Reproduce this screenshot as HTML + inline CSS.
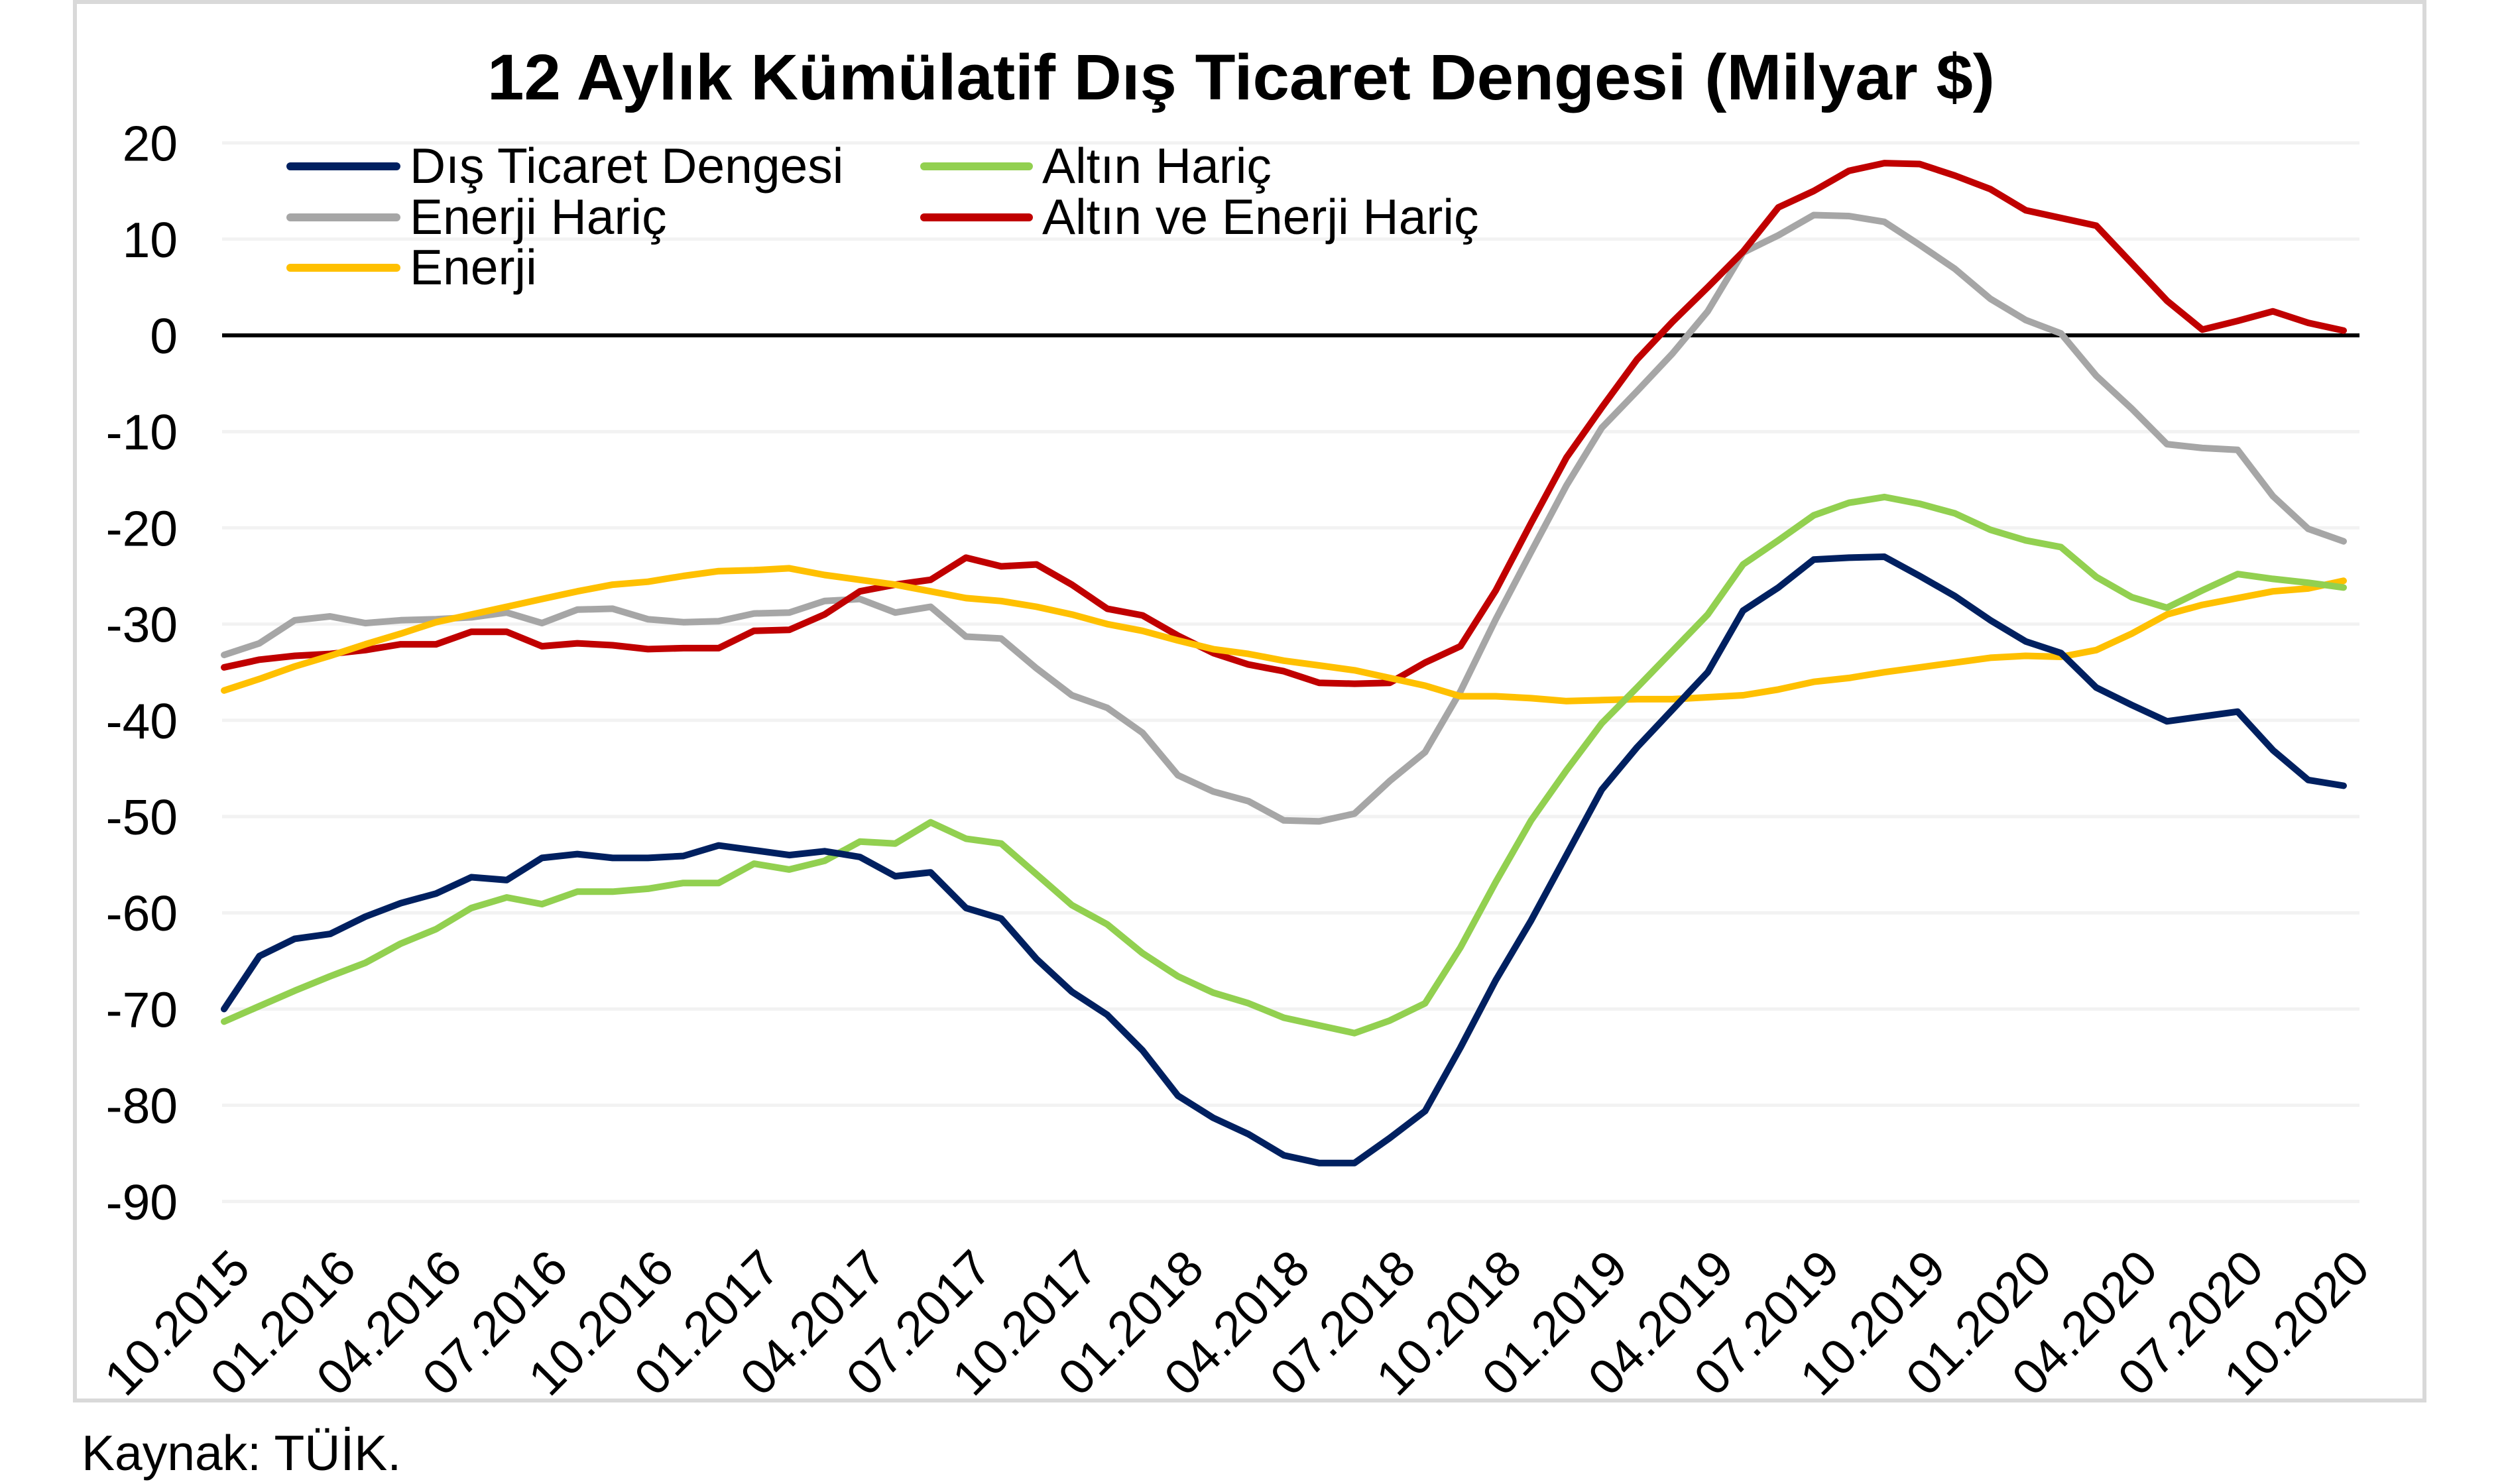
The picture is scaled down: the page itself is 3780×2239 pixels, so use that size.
<!DOCTYPE html>
<html><head><meta charset="utf-8"><style>
html,body{margin:0;padding:0;background:#fff;}
svg{display:block;font-family:"Liberation Sans",Arial,sans-serif;}
</style></head><body>
<svg id="chart" width="3780" height="2239" viewBox="0 0 3780 2239" xmlns="http://www.w3.org/2000/svg">
<rect x="113" y="3" width="3544" height="2110" fill="#fff" stroke="#d9d9d9" stroke-width="6"/>
<text x="1872" y="150" text-anchor="middle" font-size="97" font-weight="bold" textLength="2274" lengthAdjust="spacingAndGlyphs">12 Aylık Kümülatif Dış Ticaret Dengesi (Milyar $)</text>
<g id="grid"></g>
<g id="yaxis"></g>
<g id="xaxis"></g>
<g id="series"></g>
<g>
 <g><line x1="438" y1="251" x2="598" y2="251" stroke="#002060" stroke-width="12" stroke-linecap="round"/><text x="618" y="276" font-size="75">Dış Ticaret Dengesi</text></g>
 <g><line x1="438" y1="328" x2="598" y2="328" stroke="#a6a6a6" stroke-width="12" stroke-linecap="round"/><text x="618" y="353" font-size="75">Enerji Hariç</text></g>
 <g><line x1="438" y1="404" x2="598" y2="404" stroke="#ffc000" stroke-width="12" stroke-linecap="round"/><text x="618" y="429" font-size="75">Enerji</text></g>
 <g><line x1="1394" y1="251" x2="1552" y2="251" stroke="#92d050" stroke-width="12" stroke-linecap="round"/><text x="1572" y="276" font-size="75">Altın Hariç</text></g>
 <g><line x1="1394" y1="328" x2="1552" y2="328" stroke="#c00000" stroke-width="12" stroke-linecap="round"/><text x="1572" y="353" font-size="75">Altın ve Enerji Hariç</text></g>
</g>
<text x="123" y="2218" font-size="75">Kaynak: TÜİK.</text>
</svg>
<script>
const yTicks = [20,10,0,-10,-20,-30,-40,-50,-60,-70,-80,-90];
const xTickLabels = ["10.2015","01.2016","04.2016","07.2016","10.2016","01.2017","04.2017","07.2017","10.2017","01.2018","04.2018","07.2018","10.2018","01.2019","04.2019","07.2019","10.2019","01.2020","04.2020","07.2020","10.2020"];
const disTicaret = [-70,-64.5,-62.7,-62.2,-60.4,-59,-58,-56.3,-56.6,-54.3,-53.9,-54.3,-54.3,-54.1,-53,-53.5,-54,-53.6,-54.2,-56.2,-55.8,-59.5,-60.6,-64.8,-68.2,-70.6,-74.3,-79,-81.3,-83,-85.2,-86,-86,-83.4,-80.6,-74,-67,-60.8,-54,-47.2,-42.8,-38.9,-35,-28.6,-26.2,-23.3,-23.1,-23,-25,-27.1,-29.6,-31.8,-33,-36.6,-38.4,-40.1,-39.6,-39.1,-43.1,-46.2,-46.8];
const altinHaric = [-71.3,-69.7,-68.1,-66.6,-65.2,-63.2,-61.7,-59.5,-58.4,-59.1,-57.8,-57.8,-57.5,-56.9,-56.9,-54.9,-55.5,-54.6,-52.6,-52.8,-50.6,-52.3,-52.8,-56,-59.2,-61.2,-64.2,-66.6,-68.3,-69.4,-70.9,-71.7,-72.5,-71.2,-69.4,-63.6,-56.8,-50.4,-45.2,-40.3,-36.6,-32.8,-29,-23.8,-21.3,-18.7,-17.4,-16.8,-17.5,-18.5,-20.2,-21.3,-22,-25.1,-27.2,-28.3,-26.5,-24.8,-25.3,-25.7,-26.2];
const enerjiHaric = [-33.2,-32,-29.6,-29.2,-29.9,-29.6,-29.5,-29.3,-28.8,-29.9,-28.5,-28.4,-29.5,-29.8,-29.7,-28.9,-28.8,-27.6,-27.4,-28.8,-28.2,-31.3,-31.5,-34.6,-37.4,-38.7,-41.3,-45.7,-47.4,-48.4,-50.4,-50.5,-49.7,-46.3,-43.3,-37,-29.5,-22.5,-15.6,-9.6,-5.8,-1.9,2.5,8.6,10.4,12.5,12.4,11.8,9.4,6.9,3.8,1.6,0.2,-4.2,-7.6,-11.3,-11.7,-11.9,-16.7,-20.1,-21.4];
const altinEnerjiHaric = [-34.5,-33.7,-33.3,-33.1,-32.7,-32.1,-32.1,-30.8,-30.8,-32.3,-32,-32.2,-32.6,-32.5,-32.5,-30.7,-30.6,-29,-26.6,-25.9,-25.4,-23.1,-24,-23.8,-25.9,-28.4,-29.1,-31.2,-33,-34.2,-34.9,-36.1,-36.2,-36.1,-34,-32.3,-26.5,-19.5,-12.7,-7.5,-2.5,1.4,5,8.7,13.3,15,17.1,17.9,17.8,16.6,15.2,13,12.2,11.4,7.5,3.6,0.6,1.5,2.5,1.3,0.5,-0.8].slice(0,61);
const enerji = [-36.9,-35.7,-34.4,-33.3,-32.1,-31,-29.8,-29,-28.2,-27.4,-26.6,-25.9,-25.6,-25,-24.5,-24.4,-24.2,-24.9,-25.4,-25.9,-26.6,-27.3,-27.6,-28.2,-29,-30,-30.7,-31.7,-32.6,-33.1,-33.8,-34.3,-34.8,-35.6,-36.4,-37.5,-37.5,-37.7,-38,-37.9,-37.8,-37.8,-37.6,-37.4,-36.8,-36,-35.6,-35,-34.5,-34,-33.5,-33.3,-33.4,-32.7,-31,-29,-28,-27.3,-26.6,-26.3,-25.5];

const NS = "http://www.w3.org/2000/svg";
const X0 = 338, X1 = 3535, Y0 = 506, PER10 = 145.2;
const N = 61;
function xPos(i){ return X0 + i*(X1-X0)/(N-1); }
function yPos(v){ return Y0 - v*PER10/10; }
function mk(tag, attrs, parent){ const e=document.createElementNS(NS,tag); for(const k in attrs) e.setAttribute(k,attrs[k]); parent.appendChild(e); return e; }

const grid=document.getElementById('grid'), yaxis=document.getElementById('yaxis'), xaxis=document.getElementById('xaxis'), series=document.getElementById('series');
yTicks.forEach(t=>{
  if(t!==0){
    const g=mk('line',{x1:335,x2:3559,y1:yPos(t),y2:yPos(t),stroke:'#f2f2f2','stroke-width':5},grid);
    
    
  }
  const tx=mk('text',{x:268,y:yPos(t)+27,'text-anchor':'end','font-size':75},yaxis);
  tx.textContent=String(t);
  
  
});
xTickLabels.forEach((lab,k)=>{
  const x=xPos(k*3);
  const tx=mk('text',{'text-anchor':'end','font-size':75,transform:`translate(${x+43},1918) rotate(-45)`},xaxis);
  tx.textContent=lab;
  
  
});
function drawLine(vals,color,name){
  const d=vals.map((v,i)=>(i?'L':'M')+xPos(i).toFixed(1)+' '+yPos(v).toFixed(1)).join(' ');
  const p=mk('path',{d:d,fill:'none',stroke:color,'stroke-width':10,'stroke-linejoin':'round','stroke-linecap':'round'},series);
  
  
}
drawLine(enerjiHaric,'#a6a6a6','line-enerji-haric');
drawLine(altinEnerjiHaric,'#c00000','line-altin-enerji-haric');
drawLine(enerji,'#ffc000','line-enerji');
drawLine(altinHaric,'#92d050','line-altin-haric');
drawLine(disTicaret,'#002060','line-dis-ticaret-dengesi');
const z=mk('line',{x1:335,x2:3559,y1:yPos(0),y2:yPos(0),stroke:'#000','stroke-width':6},grid);


</script>
</body></html>
